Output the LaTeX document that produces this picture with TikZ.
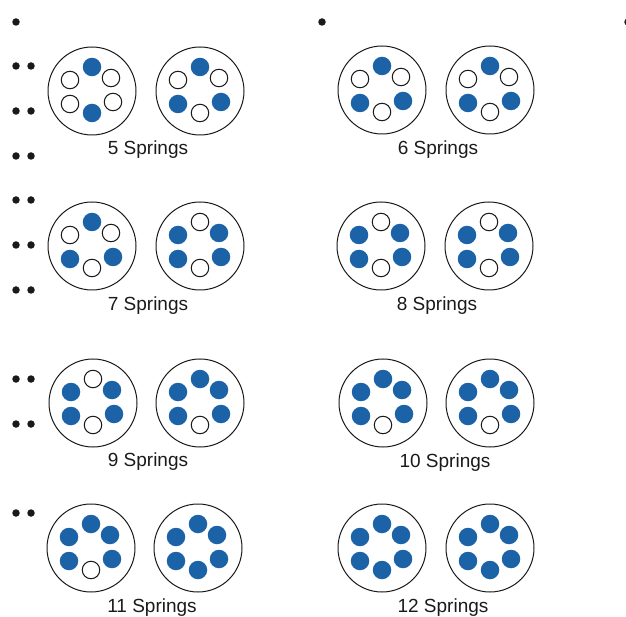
\documentclass[tikz,border=0pt]{standalone}
\usepackage{fontspec}
\setmainfont{Liberation Sans}
\definecolor{sblue}{HTML}{1C62A6}
\definecolor{ink}{HTML}{1A1A1A}
\tikzset{
  housing/.style={circle, draw=ink, line width=1pt, minimum size=88pt, inner sep=0pt},
  s1/.style={circle, fill=sblue, minimum size=18.5pt, inner sep=0pt},
  s0/.style={circle, draw=ink, fill=white, line width=1pt, minimum size=17.5pt, inner sep=0pt},
  caption/.style={anchor=base, text=ink, font=\fontsize{19}{22}\selectfont, inner sep=0pt},
  bullet/.style={circle, fill=ink, minimum size=7.5pt, inner sep=0pt},
}
% name, cx, cy, top, upper-left, upper-right, lower-left, lower-right, bottom
\newcommand\springring[9]{%
  \node[housing] (#1) at (#2,#3) {};
  \node[s#4] (#1-t)  at ([shift={(0,-24)}]#1.center) {};
  \node[s#5] (#1-ul) at ([shift={(-22,-11)}]#1.center) {};
  \node[s#6] (#1-ur) at ([shift={(19,-13)}]#1.center) {};
  \node[s#7] (#1-ll) at ([shift={(-22,13)}]#1.center) {};
  \node[s#8] (#1-lr) at ([shift={(21,11)}]#1.center) {};
  \node[s#9] (#1-b)  at ([shift={(0,22)}]#1.center) {};
}
\begin{document}
\begin{tikzpicture}[x=1pt,y=-1pt]
\useasboundingbox (0,0) rectangle (626,617);
% stray bullets
\node[bullet] (d0) at (16,22) {};
\node[bullet] (d1) at (322,22) {};
\node[bullet] (d2) at (628,22) {};
\foreach \yy [count=\k] in {66,111,156,200,245,290,379,424,513}{
  \node[bullet] (la\k) at (16,\yy) {};
  \node[bullet] (lb\k) at (31,\yy) {};
}
% 5 springs
\springring{p5a}{92}{91}{1}{0}{0}{0}{0}{1}
\springring{p5b}{200}{91}{1}{0}{0}{1}{1}{0}
\node[caption] (c5) at (148,155) {5 Springs};
% 6 springs
\springring{p6a}{382}{90}{1}{0}{0}{1}{1}{0}
\springring{p6b}{490}{90}{1}{0}{0}{1}{1}{0}
\node[caption] (c6) at (438,155) {6 Springs};
% 7 springs
\springring{p7a}{92}{246}{1}{0}{0}{1}{1}{0}
\springring{p7b}{200}{246}{0}{1}{1}{1}{1}{0}
\node[caption] (c7) at (148,310.5) {7 Springs};
% 8 springs
\springring{p8a}{381}{246}{0}{1}{1}{1}{1}{0}
\springring{p8b}{489}{246}{0}{1}{1}{1}{1}{0}
\node[caption] (c8) at (437,310.5) {8 Springs};
% 9 springs
\springring{p9a}{93}{403}{0}{1}{1}{1}{1}{0}
\springring{p9b}{200}{403}{1}{1}{1}{1}{1}{0}
\node[caption] (c9) at (148,466.5) {9 Springs};
% 10 springs
\springring{p10a}{383}{403}{1}{1}{1}{1}{1}{0}
\springring{p10b}{490}{403}{1}{1}{1}{1}{1}{0}
\node[caption] (c10) at (445,467.5) {10 Springs};
% 11 springs
\springring{p11a}{91}{548}{1}{1}{1}{1}{1}{0}
\springring{p11b}{198}{548}{1}{1}{1}{1}{1}{1}
\node[caption] (c11) at (152,612) {11 Springs};
% 12 springs
\springring{p12a}{382}{548}{1}{1}{1}{1}{1}{1}
\springring{p12b}{490}{548}{1}{1}{1}{1}{1}{1}
\node[caption] (c12) at (443,612) {12 Springs};
\end{tikzpicture}
\end{document}
